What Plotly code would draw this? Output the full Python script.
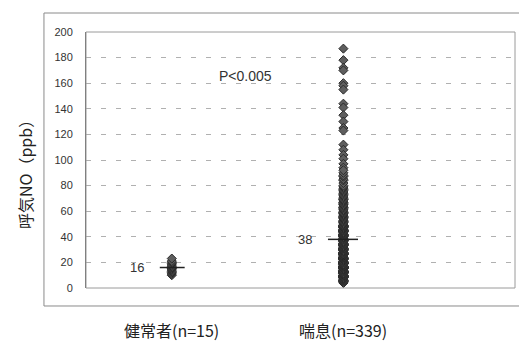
import plotly.graph_objects as go

# Exhaled NO (ppb) per subject
healthy_values = [10, 11, 12, 13, 14, 15, 15, 16, 16, 17, 18, 19, 20, 21, 23]

asthma_values = [
    # higher readings
    187, 178, 172, 170, 160, 158, 155, 144, 141, 135, 130, 125, 123,
    112, 108, 104, 101, 97, 94,
    # 4-9
    4, 4, 5, 5, 5, 6, 6, 6, 6, 7, 7, 7, 7, 7, 8, 8, 8, 8, 8, 8,
    9, 9, 9, 9, 9, 9, 9,
    # 10-19
    10, 10, 10, 10, 10, 10, 10, 10, 11, 11, 11, 11, 11, 11, 11, 11,
    12, 12, 12, 12, 12, 12, 12, 12, 13, 13, 13, 13, 13, 13, 13, 13,
    14, 14, 14, 14, 14, 14, 14, 14, 15, 15, 15, 15, 15, 15, 15, 15,
    16, 16, 16, 16, 16, 16, 16, 16, 17, 17, 17, 17, 17, 17, 17, 17,
    18, 18, 18, 18, 18, 18, 18, 18, 19, 19, 19, 19, 19, 19, 19, 19,
    # 20-29
    20, 20, 20, 20, 20, 20, 21, 21, 21, 21, 21, 21, 22, 22, 22, 22, 22, 22,
    23, 23, 23, 23, 23, 23, 24, 24, 24, 24, 24, 24, 25, 25, 25, 25, 25, 25,
    26, 26, 26, 26, 26, 26, 27, 27, 27, 27, 27, 27, 28, 28, 28, 28, 28, 28,
    29, 29, 29, 29, 29, 29,
    # 30-39
    30, 30, 30, 30, 30, 31, 31, 31, 31, 31, 32, 32, 32, 32, 32,
    33, 33, 33, 33, 33, 34, 34, 34, 34, 34, 35, 35, 35, 35, 35,
    36, 36, 36, 36, 36, 37, 37, 37, 37, 37, 38, 38, 38, 38, 38,
    39, 39, 39, 39, 39,
    # 40-49
    40, 40, 40, 40, 40, 41, 41, 41, 41, 41, 42, 42, 42, 42, 42,
    43, 43, 43, 43, 43, 44, 44, 44, 44, 44, 45, 45, 45, 45, 45,
    46, 46, 46, 46, 46, 47, 47, 47, 47, 47, 48, 48, 48, 48, 48,
    49, 49, 49, 49, 49,
    # 50-59
    50, 50, 51, 51, 52, 52, 53, 53, 54, 54, 55, 55, 56, 56, 57, 57,
    58, 58, 59, 59,
    # 60-69
    60, 61, 61, 62, 63, 63, 64, 65, 65, 66, 67, 67, 68, 69, 69,
    # 70-92
    70, 71, 72, 73, 74, 75, 76, 77, 78, 79,
    80, 82, 84, 85, 87, 88, 90, 92,
]

group_labels = ["健常者(n=15)", "喘息(n=339)"]
group_means = [16, 38]
p_text = "P<0.005"
y_ticks = [0, 20, 40, 60, 80, 100, 120, 140, 160, 180, 200]

group_pos = [1, 2]
mean_half_left = [0.07, 0.09]
mean_half_right = [0.075, 0.085]

marker_style = dict(symbol="diamond", size=7, color="#5e5e5e",
                    line=dict(color="#2a2a2a", width=1))

fig = go.Figure()
for pos, vals in zip(group_pos, [healthy_values, asthma_values]):
    fig.add_trace(go.Scatter(
        x=[pos] * len(vals), y=vals, mode="markers",
        marker=marker_style, showlegend=False, hoverinfo="y"))

shapes = []
annotations = []
for pos, m, hl, hr, lab in zip(group_pos, group_means, mean_half_left,
                                mean_half_right, group_labels):
    shapes.append(dict(type="line", xref="x", yref="y",
                       x0=pos - hl, x1=pos + hr, y0=m, y1=m,
                       line=dict(color="#222222", width=1.5)))
    annotations.append(dict(x=pos - hl, y=m, xref="x", yref="y",
                            text=str(m), showarrow=False,
                            xanchor="right", yanchor="middle", xshift=-14,
                            font=dict(size=13, color="#333333",
                                      family="Liberation Sans, Arial")))
    annotations.append(dict(x=pos, y=0, xref="x", yref="paper",
                            text=lab, showarrow=False,
                            xanchor="center", yanchor="middle", yshift=-42,
                            font=dict(size=16, color="#222222",
                                      family="Noto Sans CJK JP")))

annotations.append(dict(x=1.43, y=166, xref="x", yref="y", text=p_text,
                        showarrow=False, xanchor="center", yanchor="middle",
                        font=dict(size=14, color="#333333",
                                  family="Liberation Sans, Arial")))
annotations.append(dict(x=0, y=0.5, xref="paper", yref="paper",
                        xshift=-61, yshift=-11,
                        text="呼気NO（ppb）", showarrow=False, textangle=-90,
                        xanchor="center", yanchor="middle",
                        font=dict(size=16, color="#222222",
                                  family="Noto Sans CJK JP")))

# outer chart frame and plot-area frame
shapes.append(dict(type="rect", xref="paper", yref="paper",
                   x0=-0.098, x1=1.03, y0=-0.0703, y1=1.0742,
                   line=dict(color="#8a8a8a", width=1)))
shapes.append(dict(type="rect", xref="paper", yref="paper",
                   x0=0, x1=1, y0=0, y1=1,
                   line=dict(color="#9a9a9a", width=1)))

fig.update_layout(
    width=519, height=342,
    margin=dict(l=86, r=4, t=32, b=54),
    paper_bgcolor="white", plot_bgcolor="white",
    shapes=shapes, annotations=annotations,
    xaxis=dict(range=[0.5, 3.0], showticklabels=False, showgrid=False,
               zeroline=False, showline=False, ticks=""),
    yaxis=dict(range=[0, 200], tickvals=y_ticks, showgrid=True,
               gridcolor="#b0b0b0", griddash="5px,10px", gridwidth=1,
               zeroline=False, showline=True, linecolor="#666666",
               ticks="", ticklabelstandoff=10,
               tickfont=dict(size=11, color="#333333",
                             family="Liberation Sans, Arial")),
    font=dict(family="Liberation Sans, Arial"),
)

fig.write_html("out.html")
